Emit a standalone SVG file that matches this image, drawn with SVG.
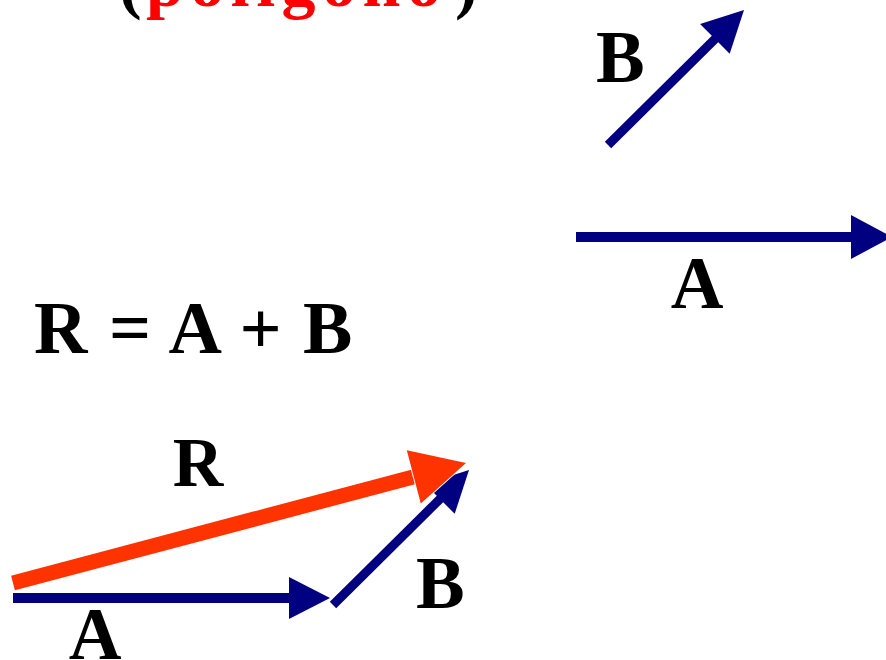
<svg xmlns="http://www.w3.org/2000/svg" width="886" height="660" viewBox="0 0 886 660">
<style>
  .t { font-family: "Liberation Serif", "Times New Roman", serif; font-weight: bold; fill: #000; }
  .blue { stroke: #000080; fill: none; stroke-linecap: butt; }
  .bluehead { fill: #000080; stroke: none; }
  .red { stroke: #FF3300; fill: none; stroke-linecap: butt; }
  .redhead { fill: #FF3300; stroke: #FFFFFF; stroke-width: 2; paint-order: stroke; }
</style>
<rect width="886" height="660" fill="#FFFFFF"/>

<g id="title">
  <text class="t" font-size="68" y="6"><tspan x="119">(</tspan><tspan x="146" fill="#FF0000" letter-spacing="6.5">polígono</tspan><tspan x="455">)</tspan></text>
</g>

<g id="equation">
  <text class="t" font-size="74" x="34" y="353" word-spacing="3">R = A + B</text>
</g>

<g id="connectors">
  <g id="vecB-top">
    <line class="blue" stroke-width="9" x1="608" y1="145" x2="716" y2="38"/>
    <polygon class="bluehead" points="744,10 729.7,53.8 700.1,24"/>
  </g>
  <g id="vecA-top">
    <line class="blue" stroke-width="10" x1="576" y1="237" x2="852" y2="237"/>
    <polygon class="bluehead" points="851,215 892,237 851,259"/>
  </g>
  <g id="vecA-bottom">
    <line class="blue" stroke-width="10" x1="13" y1="598" x2="290" y2="598"/>
    <polygon class="bluehead" points="289,577 330,598 289,619"/>
  </g>
  <g id="vecB-bottom">
    <line class="blue" stroke-width="9" x1="333" y1="605" x2="441" y2="498"/>
    <polygon class="bluehead" points="469,470 454.7,513.8 425.1,484"/>
  </g>
  <g id="vecR">
    <line class="red" stroke-width="15" x1="13" y1="583" x2="415" y2="476.5"/>
    <polygon class="redhead" points="466,463 420.8,503.4 406.8,450.2"/>
  </g>
</g>

<g id="labels">
  <g id="label-B-top"><text class="t" font-size="73" x="596" y="82">B</text></g>
  <g id="label-A-top"><text class="t" font-size="73" x="697" y="308" text-anchor="middle">A</text></g>
  <g id="label-R"><text class="t" font-size="70" x="198" y="486" text-anchor="middle">R</text></g>
  <g id="label-B-bottom"><text class="t" font-size="73" x="416" y="608">B</text></g>
  <g id="label-A-bottom"><text class="t" font-size="73" x="95" y="659" text-anchor="middle">A</text></g>
</g>
</svg>
